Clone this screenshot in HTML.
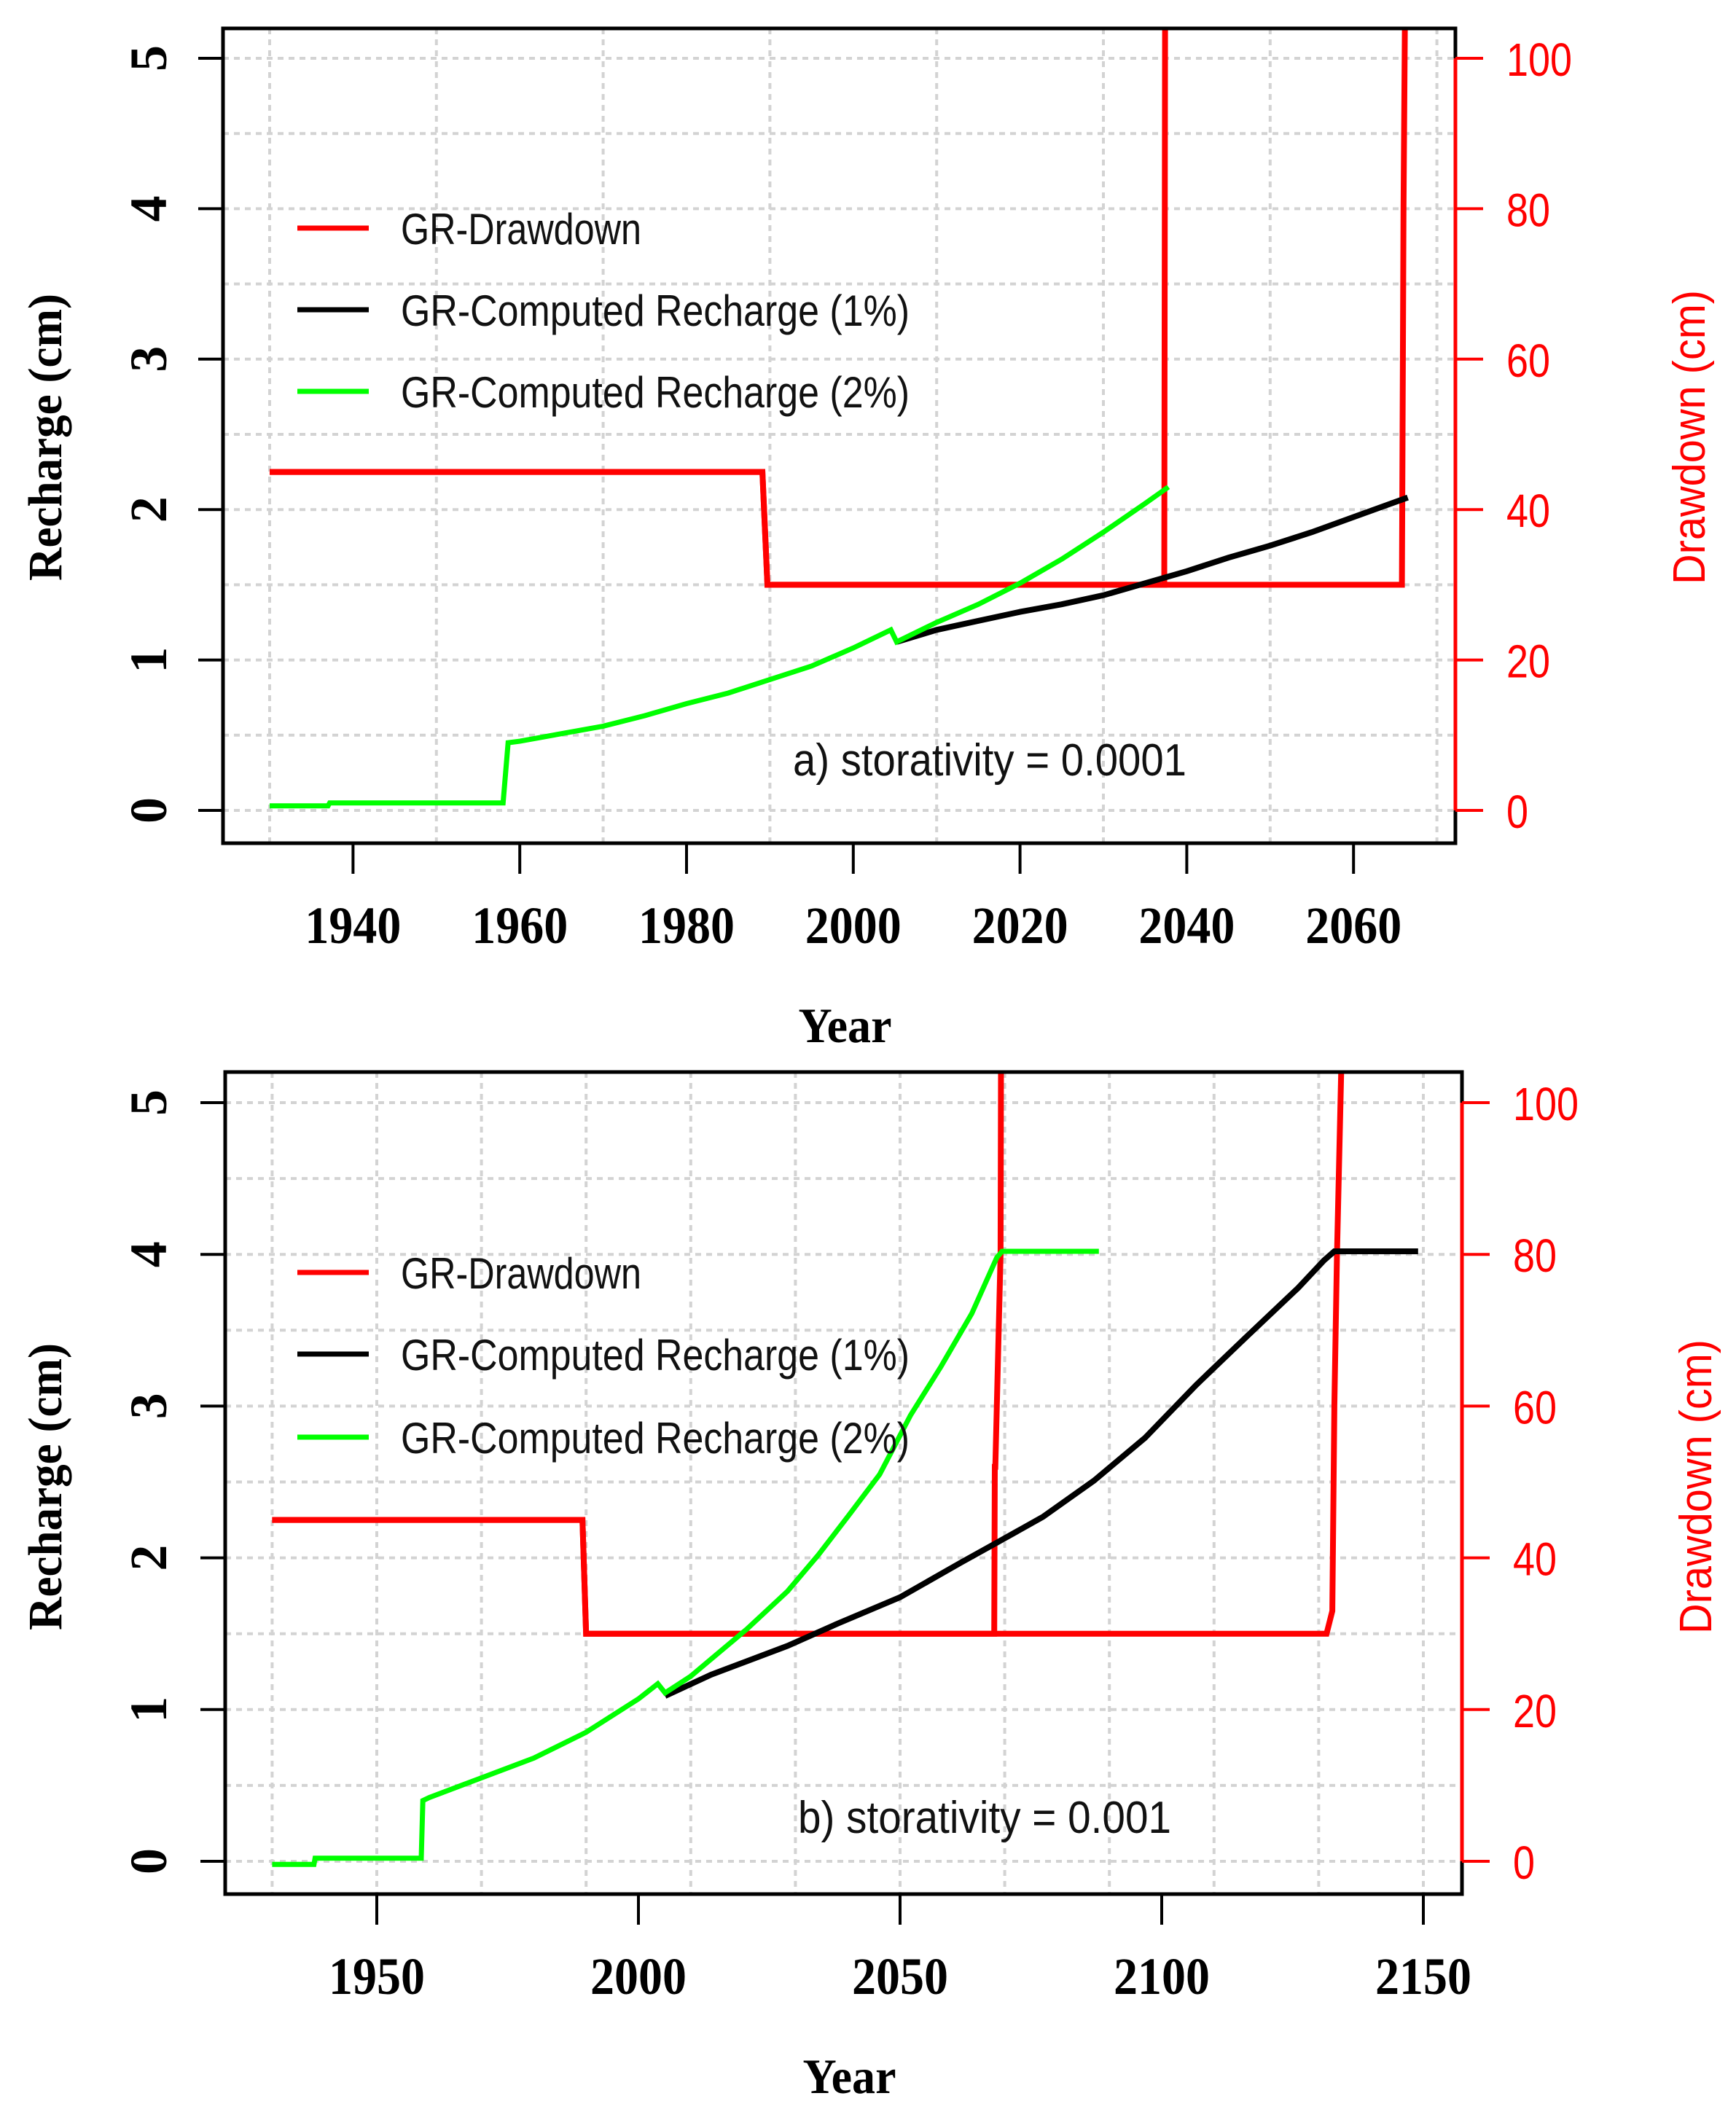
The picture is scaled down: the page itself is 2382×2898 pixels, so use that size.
<!DOCTYPE html>
<html><head><meta charset="utf-8"><style>
html,body{margin:0;padding:0;background:#fff;}
svg{display:block;}
</style></head><body>
<svg id="chart" width="2382" height="2898" viewBox="0 0 2382 2898" xmlns="http://www.w3.org/2000/svg"></svg>
<script>
// ---------- Panel a data ----------
const aTicksX = [1940,1960,1980,2000,2020,2040,2060];
const aGreenYears = [1930,1937,1937.2,1958,1958.6,1960,1965,1970,1975,1980,1985,1990,1995,2000,2004.5,2005.2,2010,2015,2020,2025,2030,2035,2037.8];
const aGreenVals  = [0.03,0.03,0.05,0.05,0.45,0.46,0.51,0.56,0.63,0.71,0.78,0.87,0.96,1.08,1.2,1.12,1.25,1.37,1.51,1.67,1.85,2.04,2.15];
const aBlackYears = [2005.2,2010,2015,2020,2025,2030,2035,2040,2045,2050,2055,2060,2066.5];
const aBlackVals  = [1.12,1.2,1.26,1.32,1.37,1.43,1.51,1.59,1.68,1.76,1.85,1.95,2.08];
const aDd1Years = [1930,1989.1,1989.7,2065.8,2066.0,2066.2];
const aDd1Vals  = [45,45,30,30,80,110];
const aDd2Years = [1930,1989.1,1989.7,2037.3,2037.4];
const aDd2Vals  = [45,45,30,30,110];
// ---------- Panel b data ----------
const bTicksX = [1950,2000,2050,2100,2150];
const bGreenYears = [1930,1938,1938.2,1958.5,1958.8,1960,1970,1980,1990,2000,2003.7,2005.1,2010,2020.7,2028.5,2034.4,2040.2,2046.1,2052,2057.8,2063.7,2068.5,2069.5,2088];
const bGreenVals  = [-0.02,-0.02,0.02,0.02,0.4,0.42,0.55,0.68,0.85,1.07,1.17,1.11,1.22,1.53,1.78,2.02,2.28,2.55,2.94,3.26,3.61,3.98,4.02,4.02];
const bBlackYears = [2005.1,2013.9,2028.5,2038.3,2050,2061.7,2068.5,2077.3,2087.1,2096.8,2106.6,2116.3,2126.1,2131,2133,2149];
const bBlackVals  = [1.09,1.23,1.42,1.57,1.74,1.97,2.1,2.27,2.51,2.79,3.14,3.46,3.78,3.96,4.02,4.02];
const bDd1Years = [1930,1989.3,1990.0,2131.5,2132.6,2133.0,2133.5,2134.5];
const bDd1Vals  = [45,45,30,30,33,60,80,110];
const bDd2Years = [1930,1989.3,1990.0,2068.0,2068.1,2068.2,2069.2,2069.3];
const bDd2Vals  = [45,45,30,30,52,52,80,110];
const yTicks = [0,1,2,3,4,5];
const ddTicks = [0,20,40,60,80,100];

const svg = document.getElementById('chart');
const NS = 'http://www.w3.org/2000/svg';
function mk(tag, attrs, parent){
  const e = document.createElementNS(NS, tag);
  for (const k in attrs) e.setAttribute(k, attrs[k]);
  (parent||svg).appendChild(e);
  return e;
}

function panel(p){
  const g = mk('g', {});
  
  
  const sx = v => p.x0 + (v - p.yr0) * p.pxYr;
  const sy = v => p.y0 - v * p.pxU;
  const sd = v => p.y0 - (v/20) * p.pxU;
  const clipId = p.id + '-clip';
  const cp = mk('clipPath', {id: clipId}, g);
  mk('rect', {x:p.L, y:p.T, width:p.R-p.L, height:p.B-p.T}, cp);
  const grid = mk('g', {stroke:'#d3d3d3','stroke-width':4,'stroke-dasharray':'8 7'}, g);
  
  
  for (let yr = 1930; yr <= 2150; yr += 20){
    const x = sx(yr); if (x < p.L || x > p.R) continue;
    mk('line', {x1:x, x2:x, y1:p.T, y2:p.B}, grid);
  }
  for (let v = 0; v <= 5.5; v += 0.5){
    const y = sy(v); if (y < p.T) continue;
    mk('line', {x1:p.L, x2:p.R, y1:y, y2:y}, grid);
  }
  const data = mk('g', {'clip-path':'url(#'+clipId+')', fill:'none','stroke-linejoin':'miter'}, g);
  function line(years, vals, scale, color, w, name){
    const pts = years.map((yr,i)=> sx(yr).toFixed(1)+','+scale(vals[i]).toFixed(1)).join(' ');
    const pl = mk('polyline', {points:pts, stroke:color, 'stroke-width':w}, data);
    
    
  }
  line(p.dd1Y, p.dd1V, sd, '#ff0000', 8, p.id + '-drawdown-1pct');
  line(p.dd2Y, p.dd2V, sd, '#ff0000', 8, p.id + '-drawdown-2pct');
  line(p.bY, p.bV, sy, '#000000', 8, p.id + '-recharge-1pct');
  line(p.gY, p.gV, sy, '#00ff00', 7, p.id + '-recharge-2pct');
  const box = mk('rect', {x:p.L, y:p.T, width:p.R-p.L, height:p.B-p.T, fill:'none', stroke:'#000','stroke-width':5}, g);
  
  
  p.ticks.forEach(t=>{
    const x = sx(t);
    mk('line', {x1:x, x2:x, y1:p.B, y2:p.B+42, stroke:'#000','stroke-width':4}, g);
    const tx = mk('text', {x:x, y:p.B+137, 'text-anchor':'middle','font-family':'Liberation Serif, serif','font-weight':'bold','font-size':72, textLength:132, lengthAdjust:'spacingAndGlyphs'}, g);
    tx.textContent = t;
    
    
  });
  yTicks.forEach(t=>{
    const y = sy(t);
    mk('line', {x1:p.L-34, x2:p.L, y1:y, y2:y, stroke:'#000','stroke-width':4}, g);
    const tx = mk('text', {x:0, y:0, transform:'translate(228,'+y+') rotate(-90)', 'text-anchor':'middle','font-family':'Liberation Serif, serif','font-weight':'bold','font-size':72}, g);
    tx.textContent = t;
    
    
  });
  const ra = mk('line', {x1:p.R, x2:p.R, y1:sd(0), y2:sd(100), stroke:'#ff0000','stroke-width':5}, g);
  
  
  ddTicks.forEach(t=>{
    const y = sd(t);
    mk('line', {x1:p.R, x2:p.R+38, y1:y, y2:y, stroke:'#ff0000','stroke-width':4}, g);
    const attrs = {x:p.R+70, y:y+24, 'font-family':'Liberation Sans, sans-serif','font-size':64, fill:'#ff0000', lengthAdjust:'spacingAndGlyphs'};
    attrs.textLength = String(t).length * 30;
    const tx = mk('text', attrs, g);
    tx.textContent = t;
    
    
  });
  const xt = mk('text', {x:(p.L+p.R)/2+8, y:p.B+273, 'text-anchor':'middle','font-family':'Liberation Serif, serif','font-weight':'bold','font-size':68, textLength:128, lengthAdjust:'spacingAndGlyphs'}, g);
  xt.textContent = 'Year';
  
  
  const yt = mk('text', {x:0, y:0, transform:'translate(84,'+p.titleY+') rotate(-90)', 'text-anchor':'middle','font-family':'Liberation Serif, serif','font-weight':'bold','font-size':66, textLength:394, lengthAdjust:'spacingAndGlyphs'}, g);
  yt.textContent = 'Recharge (cm)';
  
  
  const rt = mk('text', {x:0, y:0, transform:'translate('+(p.R+342)+','+p.titleY+') rotate(-90)', 'text-anchor':'middle','font-family':'Liberation Sans, sans-serif','font-size':62, fill:'#ff0000', textLength:404, lengthAdjust:'spacingAndGlyphs'}, g);
  rt.textContent = 'Drawdown (cm)';
  
  
  const lg = mk('g', {}, g);
  
  
  const labels = ['GR-Drawdown','GR-Computed Recharge (1%)','GR-Computed Recharge (2%)'];
  const cols = ['#ff0000','#000000','#00ff00'];
  const lens = [330, 698, 698];
  labels.forEach((s,i)=>{
    const y = p.legY[i];
    mk('line', {x1:408, x2:506, y1:y, y2:y, stroke:cols[i], 'stroke-width':7}, lg);
    const tx = mk('text', {x:550, y:y+22, 'font-family':'Liberation Sans, sans-serif','font-size':60, textLength:lens[i], lengthAdjust:'spacingAndGlyphs', fill:'#111'}, lg);
    tx.textContent = s;
    
    
  });
  const an = mk('text', {x:p.annX, y:p.annY, 'font-family':'Liberation Sans, sans-serif','font-size':62, textLength:p.annLen, lengthAdjust:'spacingAndGlyphs', fill:'#111'}, g);
  an.textContent = p.ann;
  
  
}

panel({id:'panel-a', L:306, R:1997, T:39, B:1157, x0:370, yr0:1930, pxYr:11.44, y0:1112, pxU:206.4,
  ticks:aTicksX, gY:aGreenYears, gV:aGreenVals, bY:aBlackYears, bV:aBlackVals,
  dd1Y:aDd1Years, dd1V:aDd1Vals, dd2Y:aDd2Years, dd2V:aDd2Vals,
  legY:[313,425,537], titleY:600, ann:'a) storativity = 0.0001', annX:1088, annY:1064, annLen:540});
panel({id:'panel-b', L:309, R:2006, T:1471, B:2599, x0:517, yr0:1950, pxYr:7.18, y0:2554, pxU:208.2,
  ticks:bTicksX, gY:bGreenYears, gV:bGreenVals, bY:bBlackYears, bV:bBlackVals,
  dd1Y:bDd1Years, dd1V:bDd1Vals, dd2Y:bDd2Years, dd2V:bDd2Vals,
  legY:[1746,1858,1972], titleY:2040, ann:'b) storativity = 0.001', annX:1095, annY:2515, annLen:512});
</script>
</body></html>
